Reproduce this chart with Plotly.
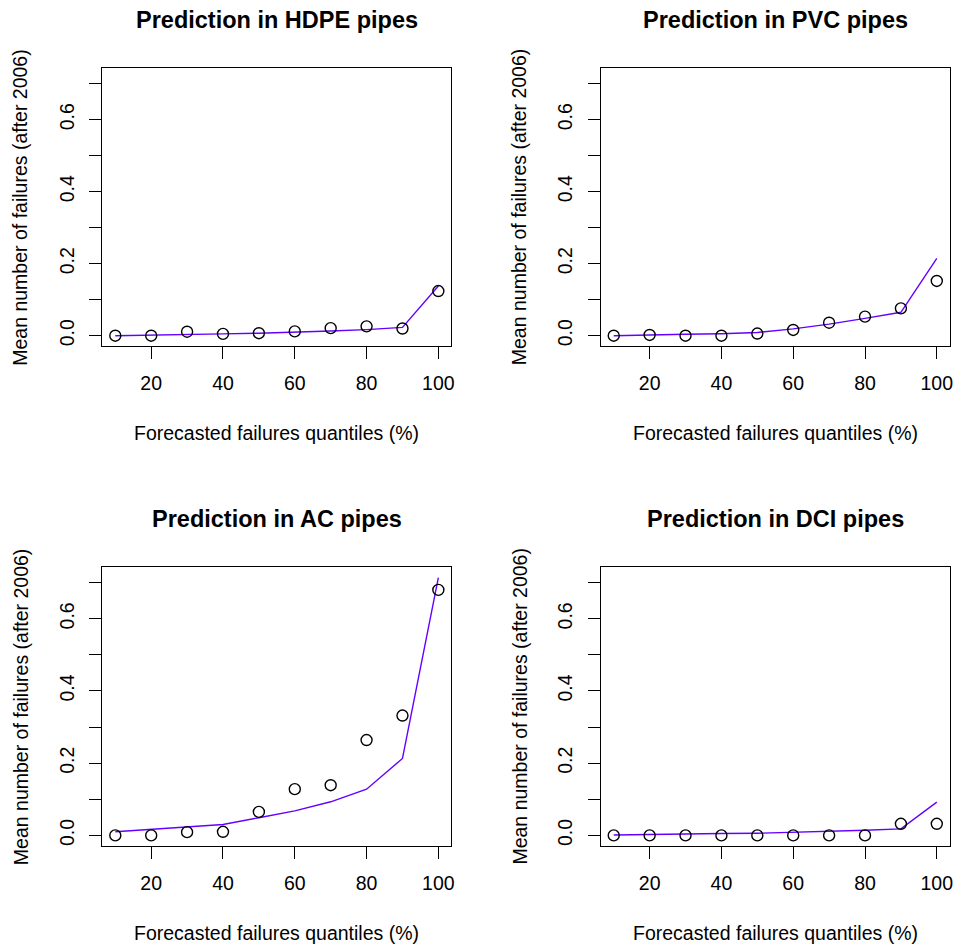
import plotly.graph_objects as go

quantiles = [10, 20, 30, 40, 50, 60, 70, 80, 90, 100]
panel_titles = ["Prediction in HDPE pipes", "Prediction in PVC pipes",
                "Prediction in AC pipes", "Prediction in DCI pipes"]

hdpe_obs = [0.0, 0.0, 0.011, 0.005, 0.007, 0.012, 0.021, 0.026, 0.020, 0.124]
hdpe_pred = [0.0, 0.001, 0.003, 0.005, 0.007, 0.009, 0.013, 0.017, 0.023, 0.138]
pvc_obs = [0.0, 0.002, 0.0, 0.0, 0.006, 0.016, 0.036, 0.053, 0.076, 0.152]
pvc_pred = [0.0, 0.003, 0.004, 0.0055, 0.009, 0.019, 0.032, 0.048, 0.065, 0.215]
ac_obs = [0.0, 0.0, 0.009, 0.010, 0.065, 0.128, 0.139, 0.264, 0.332, 0.680]
ac_pred = [0.010, 0.0165, 0.022, 0.030, 0.049, 0.068, 0.093, 0.128, 0.213, 0.714]
dci_obs = [0.0, 0.0, 0.0, 0.0, 0.0, 0.0, 0.0, 0.0, 0.032, 0.032]
dci_pred = [0.001, 0.003, 0.004, 0.005, 0.006, 0.008, 0.010, 0.014, 0.018, 0.092]

x_ticks = [20, 40, 60, 80, 100]
y_ticks = [0.0, 0.1, 0.2, 0.3, 0.4, 0.5, 0.6, 0.7]
y_ticktext = ["0.0", "", "0.2", "", "0.4", "", "0.6", ""]
x_title = "Forecasted failures quantiles (%)"
y_title = "Mean number of failures (after 2006)"

observed = [hdpe_obs, pvc_obs, ac_obs, dci_obs]
predicted = [hdpe_pred, pvc_pred, ac_pred, dci_pred]

W, H = 958, 945
FONT = "Liberation Sans, Arial, Helvetica, sans-serif"
LINE_COLOR = "#6400FF"

# box pixel positions
x_doms_px = [(102.7, 452.7), (602.7, 952.7)]
y_doms_px = [(68.3, 346.0), (567.3, 845.7)]

fig = go.Figure()
layout = dict(
    width=W, height=H, margin=dict(l=0, r=0, t=0, b=0),
    paper_bgcolor="white", plot_bgcolor="white",
    showlegend=False, font=dict(family=FONT, size=19.5, color="black"),
    annotations=[],
)

for i in range(4):
    r, c = divmod(i, 2)
    xs = "" if i == 0 else str(i + 1)
    xa, ya = "x" + xs, "y" + xs
    x0, x1 = x_doms_px[c]
    y0, y1 = y_doms_px[r]
    fig.add_trace(go.Scatter(x=quantiles, y=predicted[i], mode="lines",
                             line=dict(color=LINE_COLOR, width=1.4),
                             xaxis=xa, yaxis=ya, hoverinfo="skip"))
    fig.add_trace(go.Scatter(x=quantiles, y=observed[i], mode="markers",
                             marker=dict(symbol="circle-open", size=11,
                                         color="black", line=dict(width=1.4)),
                             xaxis=xa, yaxis=ya))
    axis_common = dict(showline=True, linecolor="black", linewidth=1,
                       mirror=True, ticks="outside", ticklen=12, tickwidth=1,
                       tickcolor="black", showgrid=False, zeroline=False,
                       tickfont=dict(family=FONT, size=19.5, color="black"))
    layout["xaxis" + xs] = dict(
        axis_common, domain=[x0 / W, x1 / W], range=[6.4, 103.6],
        tickvals=x_ticks, ticktext=[str(v) for v in x_ticks],
        anchor=ya, ticklabelstandoff=8,
    )
    layout["yaxis" + xs] = dict(
        axis_common, domain=[1 - y1 / H, 1 - y0 / H], range=[-0.0286, 0.7426],
        tickvals=y_ticks, ticktext=y_ticktext, tickangle=-90,
        anchor=xa, ticklabelstandoff=8,
    )
    cx = (x0 + x1) / 2 / W
    layout["annotations"].append(dict(
        text="<b>" + panel_titles[i] + "</b>", x=cx, y=1 - (y0 - 48) / H,
        xref="paper", yref="paper", showarrow=False, xanchor="center",
        yanchor="middle", font=dict(family=FONT, size=23.5, color="black")))
    layout["annotations"].append(dict(
        text=x_title, x=cx, y=1 - (y1 + 87) / H, xref="paper", yref="paper",
        showarrow=False, xanchor="center", yanchor="middle",
        font=dict(family=FONT, size=19.5, color="black")))
    layout["annotations"].append(dict(
        text=y_title, x=(x0 - 82) / W, y=1 - (y0 + y1) / 2 / H,
        xref="paper", yref="paper", showarrow=False, xanchor="center",
        yanchor="middle", textangle=-90,
        font=dict(family=FONT, size=19.5, color="black")))

fig.update_layout(**layout)
fig.write_html("out.html")
